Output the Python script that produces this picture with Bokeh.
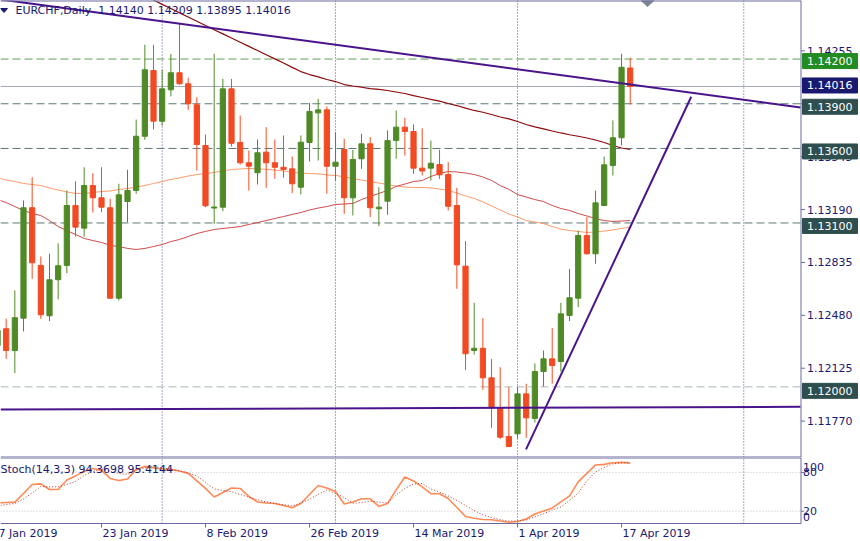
from bokeh.plotting import figure
from bokeh.models import ColumnDataSource, Range1d, Span
from bokeh.layouts import column
from bokeh.embed import file_html
from bokeh.resources import INLINE
from bokeh.core.properties import value

# ---------------- data (EURCHF daily, bar 0 = 7 Jan 2019) ----------------
bars = list(range(74))
opens = [1.12278, 1.12390, 1.12244, 1.12461, 1.13202, 1.12815, 1.12477, 1.12719, 1.12815, 1.13217,
         1.13065, 1.13351, 1.13269, 1.13202, 1.12595, 1.13244, 1.13318, 1.13682, 1.14123, 1.13783,
         1.13994, 1.14108, 1.14034, 1.13893, 1.13620, 1.13200, 1.13206, 1.14000, 1.13640, 1.13504,
         1.13437, 1.13575, 1.13504, 1.13474, 1.13463, 1.13340, 1.13640, 1.13839, 1.13859, 1.13481,
         1.13593, 1.13269, 1.13531, 1.13631, 1.13195, 1.13246, 1.13653, 1.13743, 1.13714, 1.13468,
         1.13468, 1.13492, 1.13425, 1.13217, 1.12810, 1.12244, 1.12259, 1.12061, 1.11859, 1.11667,
         1.11685, 1.11953, 1.11788, 1.12103, 1.12188, 1.12170, 1.12479, 1.12595, 1.13016, 1.12893,
         1.13217, 1.13486, 1.13672, 1.14140]
highs = [1.12445, 1.12457, 1.12647, 1.13251, 1.13407, 1.12875, 1.12893, 1.12964, 1.13318, 1.13380,
         1.13474, 1.13434, 1.13474, 1.13262, 1.13363, 1.13457, 1.13794, 1.14296, 1.14296, 1.14128,
         1.14235, 1.14437, 1.14074, 1.13944, 1.13694, 1.14235, 1.14067, 1.14067, 1.13821, 1.13586,
         1.13660, 1.13743, 1.13660, 1.13687, 1.13546, 1.13687, 1.13906, 1.13933, 1.13882, 1.13709,
         1.13665, 1.13591, 1.13698, 1.13676, 1.13340, 1.13721, 1.13855, 1.13806, 1.13761, 1.13736,
         1.13653, 1.13591, 1.13508, 1.13336, 1.12978, 1.12564, 1.12461, 1.12188, 1.12132, 1.11998,
         1.11998, 1.12021, 1.12157, 1.12244, 1.12394, 1.12564, 1.12792, 1.13049, 1.13139, 1.13318,
         1.13546, 1.13788, 1.14235, 1.14209]
lows = [1.12231, 1.12188, 1.12092, 1.12372, 1.12725, 1.12457, 1.12441, 1.12588, 1.12763, 1.13009,
        1.13009, 1.13170, 1.13172, 1.12591, 1.12580, 1.13105, 1.13296, 1.13658, 1.13727, 1.13754,
        1.13949, 1.14029, 1.13859, 1.13452, 1.13206, 1.13094, 1.13179, 1.13613, 1.13492, 1.13318,
        1.13358, 1.13336, 1.13396, 1.13403, 1.13300, 1.13291, 1.13512, 1.13519, 1.13296, 1.13385,
        1.13161, 1.13150, 1.13463, 1.13139, 1.13078, 1.13155, 1.13531, 1.13553, 1.13430, 1.13419,
        1.13385, 1.13396, 1.13184, 1.12658, 1.12114, 1.12217, 1.11980, 1.11725, 1.11651, 1.11595,
        1.11651, 1.11658, 1.11761, 1.12002, 1.12021, 1.12103, 1.12441, 1.12535, 1.12888, 1.12826,
        1.13214, 1.13419, 1.13620, 1.13895]
closes = [1.12378, 1.12244, 1.12464, 1.13202, 1.12833, 1.12484, 1.12719, 1.12813, 1.13217, 1.13072,
          1.13351, 1.13269, 1.13206, 1.12595, 1.13289, 1.13318, 1.13682, 1.14128, 1.13783, 1.14000,
          1.14108, 1.14034, 1.13900, 1.13627, 1.13215, 1.13207, 1.14000, 1.13635, 1.13504, 1.13481,
          1.13571, 1.13504, 1.13474, 1.13459, 1.13363, 1.13642, 1.13848, 1.13859, 1.13481, 1.13508,
          1.13269, 1.13526, 1.13631, 1.13202, 1.13206, 1.13653, 1.13743, 1.13714, 1.13468, 1.13449,
          1.13501, 1.13423, 1.13212, 1.12819, 1.12222, 1.12259, 1.12061, 1.11859, 1.11662, 1.11600,
          1.11953, 1.11792, 1.12103, 1.12188, 1.12143, 1.12490, 1.12598, 1.13016, 1.12893, 1.13235,
          1.13490, 1.13672, 1.14145, 1.14016]

ma_slow_bars = bars[16:]
ma_slow = [1.14653, 1.14627, 1.14596, 1.14567, 1.14539, 1.14510, 1.14482, 1.14454, 1.14425, 1.14397,
           1.14369, 1.14341, 1.14313, 1.14285, 1.14257, 1.14229, 1.14201, 1.14173, 1.14144, 1.14116,
           1.14096, 1.14080, 1.14063, 1.14049, 1.14029, 1.14019, 1.14011, 1.14002, 1.13996, 1.13989,
           1.13979, 1.13969, 1.13955, 1.13942, 1.13929, 1.13918, 1.13902, 1.13888, 1.13871, 1.13855,
           1.13843, 1.13828, 1.13811, 1.13799, 1.13781, 1.13761, 1.13745, 1.13731, 1.13717, 1.13704,
           1.13692, 1.13682, 1.13670, 1.13657, 1.13640, 1.13620, 1.13603, 1.13593]
ma_mid = [1.13257, 1.13237, 1.13210, 1.13184, 1.13163, 1.13150, 1.13116, 1.13076, 1.13049, 1.13023,
          1.12996, 1.12982, 1.12969, 1.12949, 1.12942, 1.12929, 1.12922, 1.12929, 1.12942, 1.12955,
          1.12975, 1.12989, 1.13009, 1.13029, 1.13043, 1.13056, 1.13063, 1.13069, 1.13076, 1.13090,
          1.13103, 1.13116, 1.13130, 1.13143, 1.13157, 1.13170, 1.13187, 1.13200, 1.13210, 1.13224,
          1.13227, 1.13231, 1.13257, 1.13278, 1.13298, 1.13318, 1.13345, 1.13361, 1.13378, 1.13385,
          1.13412, 1.13432, 1.13445, 1.13442, 1.13435, 1.13425, 1.13409, 1.13385, 1.13351, 1.13325,
          1.13291, 1.13274, 1.13257, 1.13244, 1.13217, 1.13197, 1.13184, 1.13163, 1.13147, 1.13130,
          1.13116, 1.13110, 1.13113, 1.13116]
ma_fast = [1.13402, 1.13388, 1.13378, 1.13365, 1.13358, 1.13351, 1.13335, 1.13321, 1.13308, 1.13298,
           1.13298, 1.13304, 1.13311, 1.13315, 1.13325, 1.13331, 1.13341, 1.13351, 1.13365, 1.13378,
           1.13392, 1.13402, 1.13415, 1.13425, 1.13432, 1.13439, 1.13449, 1.13459, 1.13462, 1.13466,
           1.13463, 1.13460, 1.13455, 1.13449, 1.13439, 1.13435, 1.13432, 1.13429, 1.13422, 1.13419,
           1.13409, 1.13398, 1.13388, 1.13378, 1.13368, 1.13358, 1.13348, 1.13341, 1.13338, 1.13338,
           1.13335, 1.13328, 1.13318, 1.13301, 1.13281, 1.13264, 1.13241, 1.13214, 1.13187, 1.13160,
           1.13140, 1.13116, 1.13106, 1.13096, 1.13076, 1.13059, 1.13049, 1.13043, 1.13036, 1.13039,
           1.13046, 1.13053, 1.13063, 1.13073]
stoch_k = [32.7, 33.5, 34.0, 47.4, 61.4, 62.2, 53.6, 53.6, 68.4, 74.6,
           81.5, 86.2, 83.1, 70.7, 67.6, 69.9, 84.7, 89.3, 87.0, 85.4,
           84.7, 82.3, 78.5, 66.8, 55.2, 42.0, 49.0, 56.0, 55.2, 42.8,
           34.3, 32.7, 31.9, 28.8, 25.3, 31.9, 45.9, 59.8, 56.0, 50.5,
           31.2, 34.3, 39.2, 39.2, 27.3, 31.9, 52.9, 73.0, 66.8, 57.5,
           47.0, 47.0, 39.7, 25.7, 11.8, 9.1, 7.1, 6.8, 4.8, 2.9,
           4.0, 7.9, 15.7, 20.3, 25.0, 34.3, 43.6, 65.3, 78.5, 91.6,
           92.4, 95.0, 95.5, 94.3698]
stoch_d = [28.1, 30.4, 31.9, 38.9, 48.2, 58.3, 57.5, 57.8, 61.4, 66.0,
           75.3, 81.6, 85.4, 81.6, 78.5, 76.9, 83.1, 87.0, 89.3, 87.0,
           84.7, 82.3, 79.2, 74.6, 64.5, 54.4, 52.1, 50.1, 45.9, 41.7,
           37.7, 34.3, 31.9, 30.1, 28.1, 32.7, 38.4, 45.9, 52.9, 47.4,
           41.2, 32.2, 33.5, 35.5, 34.0, 32.4, 45.1, 55.2, 62.2, 62.9,
           54.4, 49.5, 43.6, 36.6, 28.8, 21.1, 14.1, 10.2, 6.7, 4.8,
           4.8, 6.4, 11.0, 16.1, 21.9, 26.5, 36.6, 48.2, 66.8, 80.8,
           87.8, 93.2, 95.0, 95.4144]

trend_down_x, trend_down_y = [0.35, 92.65], [1.14600, 1.13875]
trend_up_x, trend_up_y = [60.98, 80.04], [1.11580, 1.13947]
trend_flat_x, trend_flat_y = [0.35, 92.65], [1.11848, 1.11866]
level_prices = [1.14200, 1.14016, 1.13900, 1.13600, 1.13100, 1.12000]
price_ticks = [1.11770, 1.12125, 1.12480, 1.12835, 1.13190, 1.13545, 1.13900, 1.14255]
stoch_ticks = [100, 80, 20, 0]
stoch_levels = [80, 20]
date_tick_bars = [0, 12, 24, 36, 48, 60, 72]
date_tick_labels = ["7 Jan 2019", "23 Jan 2019", "8 Feb 2019", "26 Feb 2019",
                    "14 Mar 2019", "1 Apr 2019", "17 Apr 2019"]
month_grid_bars = [19, 39, 60, 86.1]
shift_marker_bar = 75.0
title_text = "EURCHF,Daily\u00a0 1.14140 1.14209 1.13895 1.14016"
stoch_text = "Stoch(14,3,3) 94.3698 95.4144"

# ---------------- style / layout ----------------
FONT = value("DejaVu Sans")
FS = value("11px")
NAVY = "#191970"
BORDER = "#6a6aa0"
UP = "#4f8a26"
DOWN = "#f24a22"
TREND = "#4a148c"
level_colors = ["#5aa05a", "#a4a9b8", "#5a7878", "#5a7878", "#5a7878", "#a9b8b8"]
level_dash = ["8 4", "solid", "8 4", "8 4", "8 4", "8 4"]
box_colors = ["#228b22", "#191970", "#2f4f4f", "#2f4f4f", "#2f4f4f", "#2f4f4f"]
box_dy = [2, -1, 3, 3, 3, 4]               # pixel shift of each price box below its level
stoch_label_dy = [7, 0, 0, -7]             # screen px (down positive): edge labels pushed inside

W, MAIN_H, STO_H = 860, 457, 84
AXIS_PX = 800.5
XR_START, XR_END = 0.346, 99.57
YR_END = 1.14593
YR_START = YR_END - MAIN_H / 14900.0
STO_ZERO_PX, STO_PX_PER_UNIT = 523.6, 0.646     # absolute px of 0 and scale
SR_END = (STO_ZERO_PX - MAIN_H) / STO_PX_PER_UNIT
SR_START = (STO_ZERO_PX - (MAIN_H + STO_H)) / STO_PX_PER_UNIT

PX_PER_BAR = W / (XR_END - XR_START)
PRICE_PER_PX = (YR_END - YR_START) / MAIN_H


def bx(px):   # screen px -> bar coordinate (layout helpers only)
    return XR_START + px / PX_PER_BAR


def my(px):   # screen px -> price coordinate
    return YR_END - px * PRICE_PER_PX


def sv(px):   # absolute screen px -> stochastic coordinate
    return (STO_ZERO_PX - px) / STO_PX_PER_UNIT


AXB = bx(AXIS_PX)
xr = Range1d(XR_START, XR_END)

# ================= main price panel =================
p = figure(width=W, height=MAIN_H, x_range=xr, y_range=Range1d(YR_START, YR_END),
           output_backend="svg", toolbar_location=None, x_axis_location=None,
           y_axis_location=None, min_border=0)
p.outline_line_color = None
p.grid.visible = False

p.segment(x0=month_grid_bars, y0=YR_START, x1=month_grid_bars, y1=YR_END,
          line_color="#50509a", line_dash="1 2", line_width=1)
for lv, c, d in zip(level_prices, level_colors, level_dash):
    p.segment(x0=[XR_START], y0=[lv], x1=[AXB], y1=[lv], line_color=c, line_dash=d, line_width=1)

p.line(bars, ma_fast, line_color="#ff9a6a", line_width=1)
p.line(bars, ma_mid, line_color="#cf4a4a", line_width=1)
p.line(ma_slow_bars, ma_slow, line_color="#8b0a0a", line_width=1.2)

up_idx = [i for i in bars if closes[i] >= opens[i]]
dn_idx = [i for i in bars if closes[i] < opens[i]]
for idx, col in ((up_idx, UP), (dn_idx, DOWN)):
    src = ColumnDataSource(dict(
        x=[bars[i] for i in idx],
        top=[max(opens[i], closes[i]) for i in idx],
        bottom=[min(opens[i], closes[i]) for i in idx],
        high=[highs[i] for i in idx],
        low=[lows[i] for i in idx]))
    p.segment(x0="x", y0="high", x1="x", y1="low", source=src, line_color=col, line_width=1)
    p.vbar(x="x", width=0.6, top="top", bottom="bottom", source=src,
           fill_color=col, line_color=col, line_width=1)

p.line(trend_down_x, trend_down_y, line_color=TREND, line_width=2)
p.line(trend_up_x, trend_up_y, line_color=TREND, line_width=2)
p.line(trend_flat_x, trend_flat_y, line_color=TREND, line_width=2)

# chart-shift marker and title marker
p.patch([shift_marker_bar - 0.75, shift_marker_bar + 0.75, shift_marker_bar],
        [YR_END, YR_END, my(6)], fill_color="#7c8696", line_color="#7c8696")
p.patch([bx(0), bx(7), bx(3.5)], [my(8), my(8), my(12)], fill_color=NAVY, line_color=NAVY)
p.text(x=[bx(15)], y=[my(10)], text=[title_text], text_font=FONT, text_font_size=FS,
       text_color=NAVY, text_align="left", text_baseline="middle")

# borders (panel only, not under the price scale)
p.segment(x0=[XR_START, XR_START], y0=[YR_END, YR_START], x1=[AXB, AXB], y1=[YR_END, YR_START],
          line_color=BORDER, line_width=2)
p.add_layout(Span(location=AXB, dimension="height", line_color=BORDER, line_width=1))

# right price scale
p.segment(x0=AXB, y0=price_ticks, x1=bx(AXIS_PX + 4), y1=price_ticks, line_color=BORDER)
p.text(x=AXB, y=price_ticks, text=["%.5f" % t for t in price_ticks], x_offset=6,
       text_font=FONT, text_font_size=FS, text_color=NAVY,
       text_align="left", text_baseline="middle")

# level price boxes
box_y = [lv - dy * PRICE_PER_PX for lv, dy in zip(level_prices, box_dy)]
p.rect(x=bx(829.5), y=box_y, width=55, height=15, width_units="screen", height_units="screen",
       fill_color=box_colors, line_color=box_colors)
p.text(x=AXB, y=box_y, text=["%.5f" % lv for lv in level_prices], x_offset=6,
       text_font=FONT, text_font_size=FS, text_color="white",
       text_align="left", text_baseline="middle")

# ================= stochastic panel =================
s = figure(width=W, height=STO_H, x_range=xr, y_range=Range1d(SR_START, SR_END),
           output_backend="svg", toolbar_location=None, x_axis_location=None,
           y_axis_location=None, min_border=0)
s.outline_line_color = None
s.grid.visible = False

s.segment(x0=month_grid_bars, y0=sv(523), x1=month_grid_bars, y1=SR_END,
          line_color="#50509a", line_dash="1 2", line_width=1)
s.segment(x0=XR_START, y0=stoch_levels, x1=AXB, y1=stoch_levels,
          line_color="#c4c4c4", line_dash="1 2", line_width=1)
s.line(bars, stoch_k, line_color="#ff8a55", line_width=1.6)
s.line(bars, stoch_d, line_color="#b03a30", line_width=1, line_dash="1 2")

s.segment(x0=[XR_START], y0=[SR_END], x1=[AXB], y1=[SR_END], line_color=BORDER, line_width=2)
s.segment(x0=[XR_START], y0=[sv(523)], x1=[AXB], y1=[sv(523)], line_color=BORDER)
s.segment(x0=[AXB], y0=[sv(523)], x1=[AXB], y1=[SR_END], line_color=BORDER)
s.text(x=[bx(0)], y=[sv(469)], text=[stoch_text], text_font=FONT, text_font_size=FS,
       text_color=NAVY, text_align="left", text_baseline="middle")

# stochastic scale
s.segment(x0=AXB, y0=stoch_levels, x1=bx(AXIS_PX + 3), y1=stoch_levels, line_color=BORDER)
s.text(x=AXB, y=stoch_ticks, text=[str(t) for t in stoch_ticks], x_offset=2,
       y_offset=stoch_label_dy, text_font=FONT, text_font_size=FS, text_color=NAVY,
       text_align="left", text_baseline="middle")

# date scale
s.segment(x0=date_tick_bars, y0=sv(523), x1=date_tick_bars, y1=sv(527), line_color=BORDER)
s.text(x=date_tick_bars, y=sv(533), text=date_tick_labels, x_offset=1,
       text_font=FONT, text_font_size=FS, text_color=NAVY,
       text_align="left", text_baseline="middle")

layout = column(p, s, spacing=0)
open("out.html", "w").write(file_html(layout, INLINE))
